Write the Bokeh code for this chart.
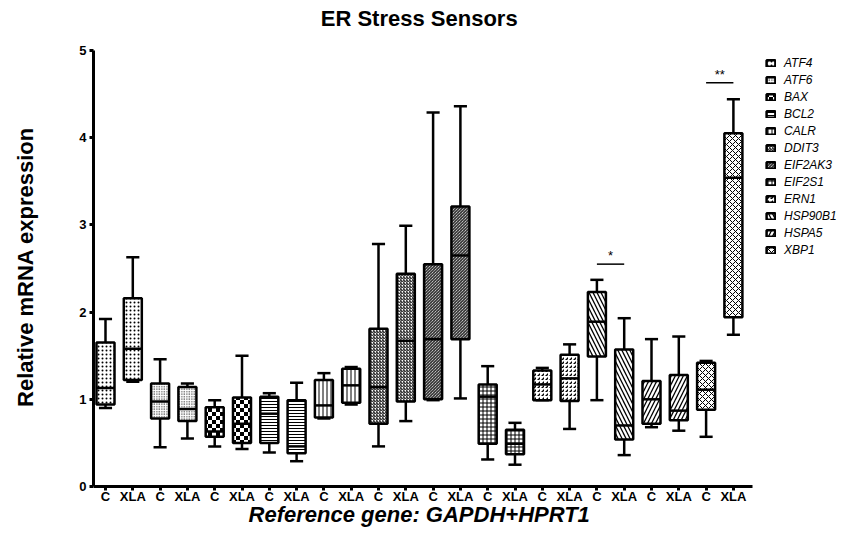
import base64
from bokeh.plotting import figure
from bokeh.models import (ColumnDataSource, FixedTicker, Legend, LegendItem,
                          ImageURLTexture, Range1d, Label)
from bokeh.core.properties import value
from bokeh.embed import file_html
from bokeh.resources import INLINE

# ---------------- data ----------------
genes = ["ATF4", "ATF6", "BAX", "BCL2", "CALR", "DDIT3", "EIF2AK3",
         "EIF2S1", "ERN1", "HSP90B1", "HSPA5", "XBP1"]
groups = ["C", "XLA"]

# one value per box, ordered gene by gene: (C, XLA)
whisker_low = [0.90, 1.20, 0.45, 0.55, 0.46, 0.43, 0.39, 0.29, 0.78, 0.94, 0.46, 0.75,
               0.99, 1.01, 0.31, 0.25, 0.99, 0.66, 0.99, 0.36, 0.68, 0.64, 0.57, 1.74]
quart1 = [0.94, 1.22, 0.78, 0.75, 0.57, 0.50, 0.50, 0.38, 0.79, 0.96, 0.72, 0.975,
          1.00, 1.69, 0.49, 0.37, 0.99, 0.98, 1.49, 0.54, 0.72, 0.76, 0.88, 1.94]
median = [1.13, 1.58, 0.975, 0.89, 0.63, 0.72, 0.835, 0.46, 0.93, 1.16, 1.14, 1.67,
          1.69, 2.65, 1.03, 0.49, 1.17, 1.24, 1.89, 0.70, 1.00, 0.87, 1.11, 3.54]
quart3 = [1.65, 2.16, 1.18, 1.14, 0.91, 1.02, 1.03, 0.99, 1.22, 1.35, 1.81, 2.44,
          2.55, 3.21, 1.17, 0.65, 1.33, 1.51, 2.23, 1.57, 1.21, 1.28, 1.42, 4.05]
whisker_high = [1.92, 2.63, 1.46, 1.18, 0.99, 1.50, 1.07, 1.19, 1.30, 1.37, 2.78, 2.99,
                4.29, 4.36, 1.38, 0.73, 1.36, 1.63, 2.37, 1.93, 1.69, 1.72, 1.44, 4.44]

sig_genes = ["HSP90B1", "XBP1"]
sig_labels = ["*", "**"]
sig_level = [2.55, 4.63]

y_ticks = [0, 1, 2, 3, 4, 5]

# ---------------- styles ----------------
checker_svg = ("<svg xmlns='http://www.w3.org/2000/svg' width='8' height='8'>"
               "<rect width='8' height='8' fill='white'/>"
               "<rect width='4' height='4' fill='black'/>"
               "<rect x='4' y='4' width='4' height='4' fill='black'/></svg>")
checker = ImageURLTexture(
    url="data:image/svg+xml;base64," + base64.b64encode(checker_svg.encode()).decode(),
    repetition="repeat")

hatch_style = {
    "ATF4": ("dot", 4, 1.0),
    "ATF6": ("dot", 2.5, 2.0),
    "BAX": ("k", 8, 1.0),
    "BCL2": ("horizontal_line", 3, 1.0),
    "CALR": ("vertical_line", 4, 1.0),
    "DDIT3": ("right_diagonal_line", 3, 1.0),
    "EIF2AK3": ("left_diagonal_line", 3, 1.0),
    "EIF2S1": ("cross", 4, 1.0),
    "ERN1": ("right_diagonal_dash", 4, 1.5),
    "HSP90B1": ("left_diagonal_line", 8, 1.3),
    "HSPA5": ("right_diagonal_line", 8, 1.3),
    "XBP1": ("diagonal_cross", 6, 1.0),
}

FONT = "Liberation Sans"
BOX_W = 0.66
CAP_W = 0.48
W, H = 845, 546
LEFT = 93            # frame left edge (px)
ZERO_Y = 486         # pixel row of y = 0
FRAME_BOTTOM = 533   # frame spans the page height so every text sits inside it
PX_X = 27.3          # px per category step
PX_Y = 87.2          # px per y unit
X0 = -12 / PX_X      # x value at the frame's left edge
X_AXIS_END = 23.7    # where the x axis line stops

n = len(genes) * len(groups)
xs = list(range(n))
gene_col = [genes[i // 2] for i in xs]
src = ColumnDataSource(dict(
    x=xs, gene=gene_col,
    low=whisker_low, q1=quart1, med=median, q3=quart3, high=whisker_high,
    cl=[x - CAP_W / 2 for x in xs], cr=[x + CAP_W / 2 for x in xs],
    ml=[x - BOX_W / 2 for x in xs], mr=[x + BOX_W / 2 for x in xs],
    hatch=[hatch_style[g][0] for g in gene_col],
    hscale=[hatch_style[g][1] for g in gene_col],
    hweight=[hatch_style[g][2] for g in gene_col],
))

p = figure(width=W, height=H, output_backend="svg", toolbar_location=None,
           x_range=Range1d(X0, X0 + (W - LEFT) / PX_X),
           y_range=Range1d(-(FRAME_BOTTOM - ZERO_Y) / PX_Y, ZERO_Y / PX_Y),
           min_border_left=LEFT, min_border_right=0,
           min_border_top=0, min_border_bottom=H - FRAME_BOTTOM)
p.outline_line_color = None
p.grid.visible = False

# title and x-axis title as labels (screen units relative to the frame)
p.add_layout(Label(x=418.7 - LEFT, y=FRAME_BOTTOM - 18, x_units="screen", y_units="screen",
                   text="ER Stress Sensors", text_align="center", text_baseline="middle",
                   text_font=FONT, text_font_size="22px", text_font_style="bold",
                   text_color="black"))
p.add_layout(Label(x=418.7 - LEFT, y=FRAME_BOTTOM - 514, x_units="screen", y_units="screen",
                   text="Reference gene: GAPDH+HPRT1", text_align="center",
                   text_baseline="middle", text_font=FONT, text_font_size="22px",
                   text_font_style="bold italic", text_color="black"))

# whiskers
p.segment(x0="x", y0="q3", x1="x", y1="high", source=src, line_color="black", line_width=2.5)
p.segment(x0="x", y0="low", x1="x", y1="q1", source=src, line_color="black", line_width=2.5)
p.segment(x0="cl", y0="high", x1="cr", y1="high", source=src, line_color="black", line_width=2.5)
p.segment(x0="cl", y0="low", x1="cr", y1="low", source=src, line_color="black", line_width=2.5)

box = p.vbar(x="x", width=BOX_W, top="q3", bottom="q1", source=src,
             fill_color="white", line_color="black", line_width=2.5,
             hatch_pattern="hatch", hatch_scale="hscale", hatch_weight="hweight",
             hatch_color="black", hatch_extra={"k": checker})
p.segment(x0="ml", y0="med", x1="mr", y1="med", source=src, line_color="black", line_width=2.5)

# significance markers
sx0 = [2 * genes.index(g) for g in sig_genes]
sx1 = [2 * genes.index(g) + 1 for g in sig_genes]
ssrc = ColumnDataSource(dict(x0=sx0, x1=sx1, y=sig_level, lab=sig_labels,
                             xm=[(a + b) / 2 for a, b in zip(sx0, sx1)]))
p.segment(x0="x0", y0="y", x1="x1", y1="y", source=ssrc, line_color="black", line_width=1.5)
p.text(x="xm", y="y", text="lab", source=ssrc, text_align="center", text_baseline="bottom",
       y_offset=-1, text_font=value(FONT), text_font_size="13px", text_color="black")

# axes
p.xaxis.ticker = FixedTicker(ticks=xs)
p.xaxis.major_label_overrides = {i: groups[i % 2] for i in xs}
p.xaxis.bounds = (X0, X_AXIS_END)
p.xaxis.fixed_location = 0
p.yaxis.ticker = FixedTicker(ticks=y_ticks)
p.yaxis.bounds = (0, 5)
for ax in (p.xaxis, p.yaxis):
    ax.axis_line_width = 3
    ax.axis_line_color = "black"
    ax.major_tick_line_width = 3
    ax.major_tick_line_color = "black"
    ax.major_tick_in = 0
    ax.major_tick_out = 4
    ax.minor_tick_line_color = None
    ax.major_label_text_font = FONT
    ax.major_label_text_font_style = "bold"
    ax.major_label_text_font_size = "13px"
    ax.major_label_text_color = "black"
    ax.axis_label_text_font = FONT
    ax.axis_label_text_font_size = "22px"
    ax.axis_label_text_color = "black"
p.xaxis.major_label_standoff = -2
p.yaxis.major_label_standoff = 3
p.yaxis.axis_label = "Relative mRNA expression"
p.yaxis.axis_label_text_font_style = "bold"
p.yaxis.axis_label_standoff = 38

# legend, right of the axes (screen units relative to the frame)
items = [LegendItem(label=g, renderers=[box], index=2 * i) for i, g in enumerate(genes)]
legend = Legend(items=items, location=(765 - LEFT, 229 + FRAME_BOTTOM - ZERO_Y),
                border_line_color=None,
                background_fill_alpha=0, label_text_font=FONT,
                label_text_font_style="italic", label_text_font_size="12px",
                label_text_color="black",
                glyph_width=11, glyph_height=8, label_height=13, spacing=3,
                padding=0, margin=0, label_standoff=8)
p.add_layout(legend)

open("out.html", "w").write(file_html(p, INLINE))
